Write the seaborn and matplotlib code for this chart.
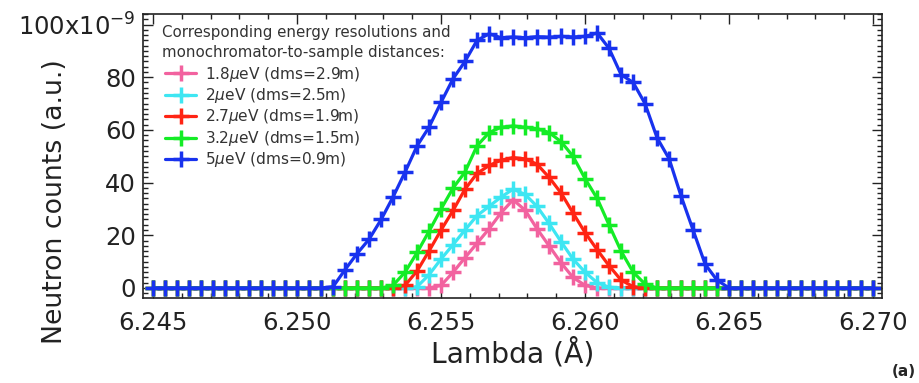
import numpy as np
import pandas as pd
import matplotlib
matplotlib.use("Agg")
import matplotlib.pyplot as plt
import seaborn as sns
from matplotlib import font_manager
from matplotlib.ticker import MultipleLocator, FixedLocator

# Wavelength grid (Angstrom)
lam = [6.24500, 6.24542, 6.24583, 6.24625, 6.24667, 6.24708, 6.24750, 6.24792,
       6.24833, 6.24875, 6.24917, 6.24958, 6.25000, 6.25042, 6.25083, 6.25125,
       6.25167, 6.25208, 6.25250, 6.25292, 6.25333, 6.25375, 6.25417, 6.25458,
       6.25500, 6.25542, 6.25583, 6.25625, 6.25667, 6.25708, 6.25750, 6.25792,
       6.25833, 6.25875, 6.25917, 6.25958, 6.26000, 6.26042, 6.26083, 6.26125,
       6.26167, 6.26208, 6.26250, 6.26292, 6.26333, 6.26375, 6.26417, 6.26458,
       6.26500, 6.26542, 6.26583, 6.26625, 6.26667, 6.26708, 6.26750, 6.26792,
       6.26833, 6.26875, 6.26917, 6.26958, 6.27000]

pink = [0]*23 + [0, 1, 6, 11.5, 17, 22.5, 28.5, 33.5, 29.5, 22.5, 16, 9.5, 4, 1, 0] + [0]*23
cyan = [0]*22 + [0.5, 5, 11, 16.5, 22, 27.5, 31, 34.5, 37.5, 35.5, 31, 24.5, 17.5,
                 11, 6, 2, 0.3] + [0]*22
red = [0]*21 + [1, 6.5, 14, 22, 29.5, 37.5, 43.5, 46.5, 48.5, 49.5, 49, 47, 42, 36,
                28.5, 21, 14.5, 8.5, 3, 0.5] + [0]*20
green = [0]*20 + [1, 6, 13.5, 21.5, 30, 38, 44, 54, 59, 61, 61.5, 61, 60.5, 59, 55.5,
                  50, 41.5, 34, 24, 14, 6, 1.5] + [0]*19
blue = [0]*15 + [0.5, 7, 13, 18.5, 26, 34.5, 44, 54, 61, 70.5, 79.5, 86, 94, 96.5, 95,
                 95.3, 95, 95.4, 95.2, 95.5, 95.3, 95.5, 96.8, 91, 81, 78, 70, 57, 49,
                 35, 22, 9, 3] + [0]*13

labels = ["1.8$\\mu$eV (dms=2.9m)", "2$\\mu$eV (dms=2.5m)", "2.7$\\mu$eV (dms=1.9m)",
          "3.2$\\mu$eV (dms=1.5m)", "5$\\mu$eV (dms=0.9m)"]
colors = ["#f2629f", "#3ee6f2", "#ff2414", "#14ec26", "#1832ee"]
series = [pink, cyan, red, green, blue]
legend_title = "Corresponding energy resolutions and\nmonochromator-to-sample distances:"

xticks = [6.245, 6.250, 6.255, 6.260, 6.265, 6.270]
xticklabels = ["6.245", "6.250", "6.255", "6.260", "6.265", "6.270"]
yticks = [0, 20, 40, 60, 80, 100]
yticklabels = ["0", "20", "40", "60", "80", "100x10$^{-9}$"]

sns.set_theme(style="white")
plt.rcParams["font.family"] = ["DejaVu Sans"]
plt.rcParams["mathtext.fontset"] = "dejavusans"

names = {f.name for f in font_manager.fontManager.ttflist}
COND = "DejaVu Sans Condensed" if "DejaVu Sans Condensed" in names else "DejaVu Sans"
cond_scale = 1.0 if COND == "DejaVu Sans Condensed" else 0.92

fig = plt.figure(figsize=(9.19, 3.83), dpi=100)
ax = fig.add_axes([143/919, 1 - 298/383, (882-143)/919, (298-14)/383])

for vals, lab, col in zip(series, labels, colors):
    df = pd.DataFrame({"lam": lam, "counts": vals})
    sns.lineplot(data=df, x="lam", y="counts", ax=ax, color=col, label=lab,
                 linewidth=2.3, marker="+", markersize=11.5, markeredgewidth=2.5,
                 markeredgecolor=col)

ax.set_xlim(6.24465, 6.27031)
ax.set_ylim(-3.8, 104.0)
ax.xaxis.set_major_locator(FixedLocator(xticks))
ax.set_xticklabels(xticklabels, family=COND, fontsize=19 * cond_scale)
ax.xaxis.set_minor_locator(MultipleLocator(0.001))
ax.yaxis.set_major_locator(FixedLocator(yticks))
ax.set_yticklabels(yticklabels, family=COND, fontsize=19 * cond_scale)
ax.yaxis.set_minor_locator(MultipleLocator(2))

ax.tick_params(which="both", direction="in", top=True, right=True, bottom=True, left=True,
               colors="#222222", width=1.0)
ax.tick_params(which="major", length=7, pad=5)
ax.tick_params(which="minor", length=3.5)
ax.tick_params(axis="x", which="major", pad=9)
for s in ax.spines.values():
    s.set_color("#222222")
    s.set_linewidth(1.2)

ax.set_xlabel("Lambda (Å)", fontsize=22 * cond_scale, family=COND, color="#222222")
ax.set_ylabel("Neutron counts (a.u.)", fontsize=19.3, color="#222222")
ax.yaxis.set_label_coords(-0.102, 0.34)
ax.xaxis.set_label_coords(0.5, -0.14)

ax.text(0.026, 0.962, legend_title, transform=ax.transAxes, ha="left", va="top",
        fontsize=11.8 * cond_scale, family=COND, linespacing=1.4, color="#333333")
leg = ax.legend(loc="upper left", bbox_to_anchor=(0.03, 0.822), frameon=False,
                prop={"family": COND, "size": 12 * cond_scale},
                handlelength=2.0, handletextpad=0.6,
                labelspacing=0.16, borderaxespad=0, borderpad=0)
for t in leg.get_texts():
    t.set_color("#333333")

fig.text(0.997, 0.01, "(a)", fontsize=11, fontweight="bold", ha="right", va="bottom")

fig.savefig("out.png", dpi=100)
